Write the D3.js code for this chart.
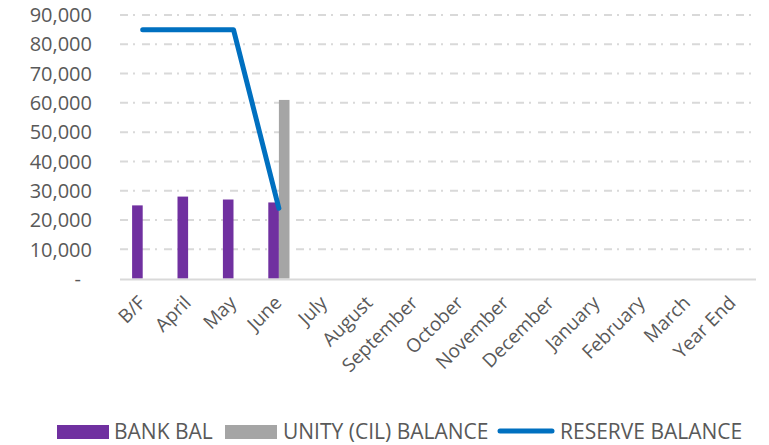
<!DOCTYPE html>
<html><head><meta charset="utf-8">
<script src="https://cdn.jsdelivr.net/npm/d3@7"></script>
<style>body{margin:0;background:#fff}</style>
</head><body>
<svg id="c" width="769" height="445"></svg>
<script>
const categories = ["B/F","April","May","June","July","August","September","October","November","December","January","February","March","Year End"];
const bankBal = [25000, 28000, 27000, 26000, null, null, null, null, null, null, null, null, null, null];
const unityBal = [null, null, null, 61000, null, null, null, null, null, null, null, null, null, null];
const reserveBal = [85000, 85000, 85000, 24000];
const yTicks = [0,10000,20000,30000,40000,50000,60000,70000,80000,90000];
const seriesNames = ["BANK BAL","UNITY (CIL) BALANCE","RESERVE BALANCE"];
const colors = ["#7030A0","#A5A5A5","#0070C0"];

const svg = d3.select("#c");
const x = d3.scaleBand().domain(categories).range([120,755.6]).paddingInner(0).paddingOuter(0);
const y = d3.scaleLinear().domain([0,90000]).range([278.6,15]);
const barW = 10.6;

// gridlines
svg.append("g").selectAll("line").data(yTicks.filter(d=>d>0)).join("line")
  .attr("x1",120).attr("x2",755).attr("y1",d=>y(d)).attr("y2",d=>y(d))
  .attr("stroke","#d9d9d9").attr("stroke-width",2).attr("stroke-dasharray","8,5,2,7");

// y axis labels
const fmt = d3.format(",");
svg.append("g").selectAll("text").data(yTicks).join("text")
  .attr("x",d=>d===0?81:92).attr("y",d=>y(d)).attr("dy","0.36em")
  .attr("text-anchor","end").attr("font-family","Open Sans").attr("font-size",20)
  .attr("fill","#595959").text(d=>d===0?"-":fmt(d));

// bars
const cx = c => x(c)+x.bandwidth()/2;
svg.append("g").selectAll("rect").data(categories.map((c,i)=>({c,v:bankBal[i]})).filter(d=>d.v!=null)).join("rect")
  .attr("x",d=>cx(d.c)-barW).attr("width",barW).attr("y",d=>y(d.v)).attr("height",d=>y(0)-y(d.v)).attr("fill",colors[0]);
svg.append("g").selectAll("rect").data(categories.map((c,i)=>({c,v:unityBal[i]})).filter(d=>d.v!=null)).join("rect")
  .attr("x",d=>cx(d.c)).attr("width",barW).attr("y",d=>y(d.v)).attr("height",d=>y(0)-y(d.v)).attr("fill",colors[1]);

// zero axis line
svg.append("line").attr("x1",120).attr("x2",756).attr("y1",y(0)+1).attr("y2",y(0)+1)
  .attr("stroke","#d9d9d9").attr("stroke-width",2);

// reserve line
const line = d3.line().x((d,i)=>cx(categories[i])).y(d=>y(d));
svg.append("path").datum(reserveBal).attr("d",line).attr("fill","none")
  .attr("stroke",colors[2]).attr("stroke-width",5).attr("stroke-linecap","round").attr("stroke-linejoin","round");

// x labels
svg.append("g").selectAll("text").data(categories).join("text")
  .attr("transform",d=>`translate(${cx(d)+4},${304}) rotate(-45)`)
  .attr("text-anchor","end").attr("font-family","Open Sans").attr("font-size",19)
  .attr("fill","#595959").text(d=>d);

// legend
const lg = svg.append("g").attr("font-family","Open Sans").attr("font-size",21).attr("fill","#595959");
const items = [
  {name:seriesNames[0], sx:57, tx:114, type:"rect", color:colors[0]},
  {name:seriesNames[1], sx:225, tx:283, type:"rect", color:colors[1]},
  {name:seriesNames[2], sx:497, tx:560, type:"line", color:colors[2]}
];
items.forEach(it=>{
  if(it.type==="rect") lg.append("rect").attr("x",it.sx).attr("y",425).attr("width",52).attr("height",14).attr("fill",it.color);
  else lg.append("line").attr("x1",it.sx+3).attr("x2",it.sx+55).attr("y1",431).attr("y2",431).attr("stroke",it.color).attr("stroke-width",5).attr("stroke-linecap","round");
  lg.append("text").attr("x",it.tx).attr("y",438.5).text(it.name);
});
</script>
</body></html>
